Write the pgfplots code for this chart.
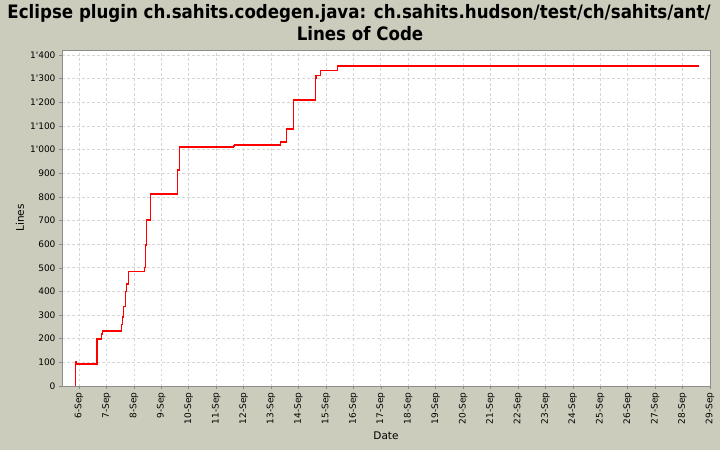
\documentclass[border=0pt]{standalone}
\usepackage{fontspec}
\setmainfont{DejaVu Sans}
\newfontfamily\titlefont{DejaVu Sans Condensed}
\usepackage{pgfplots}
\pgfplotsset{compat=1.18}
\definecolor{chartbg}{RGB}{204,204,188}
\definecolor{gridc}{RGB}{214,214,214}
\definecolor{framec}{RGB}{140,140,140}
\begin{document}
\begin{tikzpicture}[x=1pt,y=1pt]
\fill[chartbg] (0,0) rectangle (720,450);
\node[anchor=base, font=\titlefont\bfseries\fontsize{18.5}{22}\selectfont] at (359,431.5) {Eclipse plugin ch.sahits.codegen.java: ch.sahits.hudson/test/ch/sahits/ant/};
\node[anchor=base, font=\titlefont\bfseries\fontsize{18.5}{22}\selectfont] at (360,409.5) {Lines of Code};
\begin{axis}[
  at={(62pt,64pt)}, anchor=south west,
  scale only axis, width=648pt, height=336pt,
  xmin=5.38, xmax=29, ymin=0, ymax=1421,
  axis background/.style={fill=white},
  axis line style={framec},
  tick style={framec, line width=0.5pt},
  tick align=outside, major tick length=3pt,
  tick pos=left,
  grid=major,
  major grid style={gridc, dash pattern=on 2.5pt off 2.5pt, line width=0.6pt},
  xtick={6,...,29},
  xticklabels={6-Sep,7-Sep,8-Sep,9-Sep,10-Sep,11-Sep,12-Sep,13-Sep,14-Sep,15-Sep,16-Sep,17-Sep,18-Sep,19-Sep,20-Sep,21-Sep,22-Sep,23-Sep,24-Sep,25-Sep,26-Sep,27-Sep,28-Sep,29-Sep},
  x tick label style={rotate=90, anchor=east, font=\fontsize{9}{10}\selectfont},
  ytick={0,100,...,1400},
  y tick label style={font=\fontsize{9}{10}\selectfont},
  scaled y ticks=false,
  /pgf/number format/.cd, 1000 sep={\textquotesingle}, assume math mode=true, /pgfplots/.cd,
  xlabel={Date}, ylabel={Lines},
  every axis x label/.style={at={(rel axis cs:0.5,0)}, yshift=-50pt, anchor=center, font=\fontsize{10.5}{12}\selectfont},
  every axis y label/.style={at={(rel axis cs:0,0.5)}, xshift=-42pt, rotate=90, anchor=center, font=\fontsize{10.5}{12}\selectfont},
]
\addplot[red, line width=1.5pt, const plot] coordinates {
  (5.865,0) (5.865,103) (5.90,92) (6.656,199) (6.813,219) (6.849,233)
  (7.542,261) (7.579,291) (7.615,337) (7.688,399) (7.724,431) (7.797,485)
  (8.381,502) (8.417,596) (8.454,701) (8.614,811) (9.598,914) (9.657,1010)
  (11.640,1014) (11.676,1019) (13.339,1031) (13.557,1086) (13.813,1209)
  (14.615,1300) (14.640,1314) (14.797,1334) (15.431,1354) (28.60,1354)
};
\end{axis}
\end{tikzpicture}
\end{document}
